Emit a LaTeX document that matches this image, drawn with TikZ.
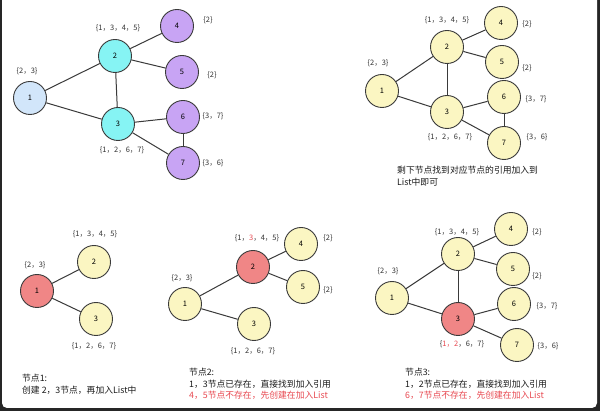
\documentclass[tikz,border=0pt]{standalone}
\usepackage{fontspec}
\setmainfont{Noto Sans CJK SC}
\usepackage{tikz}
\usetikzlibrary{positioning}
\definecolor{edgegray}{HTML}{3A3A3A}
\definecolor{startblue}{HTML}{D2E6FA}
\definecolor{hitcyan}{HTML}{86F4F4}
\definecolor{leafpurple}{HTML}{C8A4F4}
\definecolor{plainyellow}{HTML}{FBF6C2}
\definecolor{currred}{HTML}{F08686}
\definecolor{notered}{HTML}{E84850}
\tikzset{
    vert/.style={circle,draw=edgegray,line width=0.9pt,minimum size=33pt,inner sep=0pt,
        font=\fontsize{7.5}{8}\selectfont},
    startv/.style={vert,fill=startblue},
    hitv/.style={vert,fill=hitcyan},
    leafv/.style={vert,fill=leafpurple},
    plainv/.style={vert,fill=plainyellow},
    currv/.style={vert,fill=currred},
    adj/.style={font=\fontsize{7.5}{8}\selectfont,text=black!80,inner sep=0pt},
    note/.style={anchor=north west,align=left,inner sep=0pt,
        font=\fontsize{8.8}{11.5}\selectfont,text=black!90},
    link/.style={draw=edgegray,line width=1pt}
}
\newcommand{\cc}{，}
\begin{document}
\begin{tikzpicture}[x=1pt,y=-1pt]
    \useasboundingbox (0,0) rectangle (600,411);
    \fill[black!85] (0,0) rectangle (600,411);
    \fill[white,rounded corners=5pt] (2,-6) rectangle (597,408);

    % whole graph, first colouring
    \node[startv] (a1) at (30,98)   {1};
    \node[hitv]   (a2) at (115,56)  {2};
    \node[hitv]   (a3) at (118,124) {3};
    \node[leafv]  (a4) at (177,26)  {4};
    \node[leafv]  (a5) at (182,72)  {5};
    \node[leafv]  (a6) at (183,117) {6};
    \node[leafv]  (a7) at (183,163) {7};
    \path[link]
        (a1) edge (a2)
        (a1) edge (a3)
        (a2) edge (a3)
        (a2) edge (a4)
        (a2) edge (a5)
        (a3) edge (a6)
        (a3) edge (a7)
        (a6) edge (a7);
    \node[adj] (la1) at (27,71)   {\{2\cc 3\}};
    \node[adj] (la2) at (118,28)  {\{1\cc 3\cc 4\cc 5\}};
    \node[adj] (la3) at (122,150) {\{1\cc 2\cc 6\cc 7\}};
    \node[adj] (la4) at (208,20)  {\{2\}};
    \node[adj] (la5) at (212,75)  {\{2\}};
    \node[adj] (la6) at (213,116) {\{3\cc 7\}};
    \node[adj] (la7) at (213,163) {\{3\cc 6\}};

    % whole graph, all yellow
    \node[plainv] (b1) at (382,91)  {1};
    \node[plainv] (b2) at (447,47)  {2};
    \node[plainv] (b3) at (447,112) {3};
    \node[plainv] (b4) at (501,23)  {4};
    \node[plainv] (b5) at (502,62)  {5};
    \node[plainv] (b6) at (504,97)  {6};
    \node[plainv] (b7) at (504,143) {7};
    \path[link]
        (b1) edge (b2)
        (b1) edge (b3)
        (b2) edge (b3)
        (b2) edge (b4)
        (b2) edge (b5)
        (b3) edge (b6)
        (b3) edge (b7)
        (b6) edge (b7);
    \node[adj] (lb1) at (378,63)  {\{2\cc 3\}};
    \node[adj] (lb2) at (447,20)  {\{1\cc 3\cc 4\cc 5\}};
    \node[adj] (lb3) at (450,137) {\{1\cc 2\cc 6\cc 7\}};
    \node[adj] (lb4) at (527,24)  {\{2\}};
    \node[adj] (lb5) at (527,68)  {\{2\}};
    \node[adj] (lb6) at (536,99)  {\{3\cc 7\}};
    \node[adj] (lb7) at (537,137) {\{3\cc 6\}};
    \node[note] (tb) at (397,166) {剩下节点找到对应节点的引用加入到\\List中即可};

    % step 1
    \node[currv]  (c1) at (37,291) {1};
    \node[plainv] (c2) at (94,262) {2};
    \node[plainv] (c3) at (96,319) {3};
    \path[link]
        (c1) edge (c2)
        (c1) edge (c3);
    \node[adj] (lc1) at (35,265) {\{2\cc 3\}};
    \node[adj] (lc2) at (95,234) {\{1\cc 3\cc 4\cc 5\}};
    \node[adj] (lc3) at (94,346) {\{1\cc 2\cc 6\cc 7\}};
    \node[note] (tc) at (22,374) {节点1:\\创建 2\cc 3节点\cc 再加入List中};

    % step 2
    \node[plainv] (d1) at (185,304) {1};
    \node[currv]  (d2) at (253,267) {2};
    \node[plainv] (d3) at (254,324) {3};
    \node[plainv] (d4) at (301,244) {4};
    \node[plainv] (d5) at (303,287) {5};
    \path[link]
        (d1) edge (d2)
        (d1) edge (d3)
        (d2) edge (d4)
        (d2) edge (d5);
    \node[adj] (ld1) at (182,278) {\{2\cc 3\}};
    \node[adj] (ld2) at (257,238) {\{1\cc \textcolor{notered}{3}\cc 4\cc 5\}};
    \node[adj] (ld3) at (253,351) {\{1\cc 2\cc 6\cc 7\}};
    \node[adj] (ld4) at (328,238) {\{2\}};
    \node[adj] (ld5) at (328,290) {\{2\}};
    \node[note] (td) at (189,368) {节点2:\\1\cc 3节点已存在\cc 直接找到加入引用\\
        \textcolor{notered}{4\cc 5节点不存在\cc 先创建在加入List}};

    % step 3
    \node[plainv] (e1) at (392,298) {1};
    \node[plainv] (e2) at (458,254) {2};
    \node[currv]  (e3) at (458,319) {3};
    \node[plainv] (e4) at (511,229) {4};
    \node[plainv] (e5) at (513,269) {5};
    \node[plainv] (e6) at (514,304) {6};
    \node[plainv] (e7) at (517,345) {7};
    \path[link]
        (e1) edge (e2)
        (e1) edge (e3)
        (e2) edge (e3)
        (e2) edge (e4)
        (e2) edge (e5)
        (e3) edge (e6)
        (e3) edge (e7);
    \node[adj] (le1) at (388,271) {\{2\cc 3\}};
    \node[adj] (le2) at (457,232) {\{1\cc 3\cc 4\cc 5\}};
    \node[adj] (le3) at (462,344) {\{\textcolor{notered}{1\cc 2}\cc 6\cc 7\}};
    \node[adj] (le4) at (537,232) {\{2\}};
    \node[adj] (le5) at (537,276) {\{2\}};
    \node[adj] (le6) at (547,306) {\{3\cc 7\}};
    \node[adj] (le7) at (548,346) {\{3\cc 6\}};
    \node[note] (te) at (405,368) {节点3:\\1\cc 2节点已存在\cc 直接找到加入引用\\
        \textcolor{notered}{6\cc 7节点不存在\cc 先创建在加入List}};
\end{tikzpicture}
\end{document}
